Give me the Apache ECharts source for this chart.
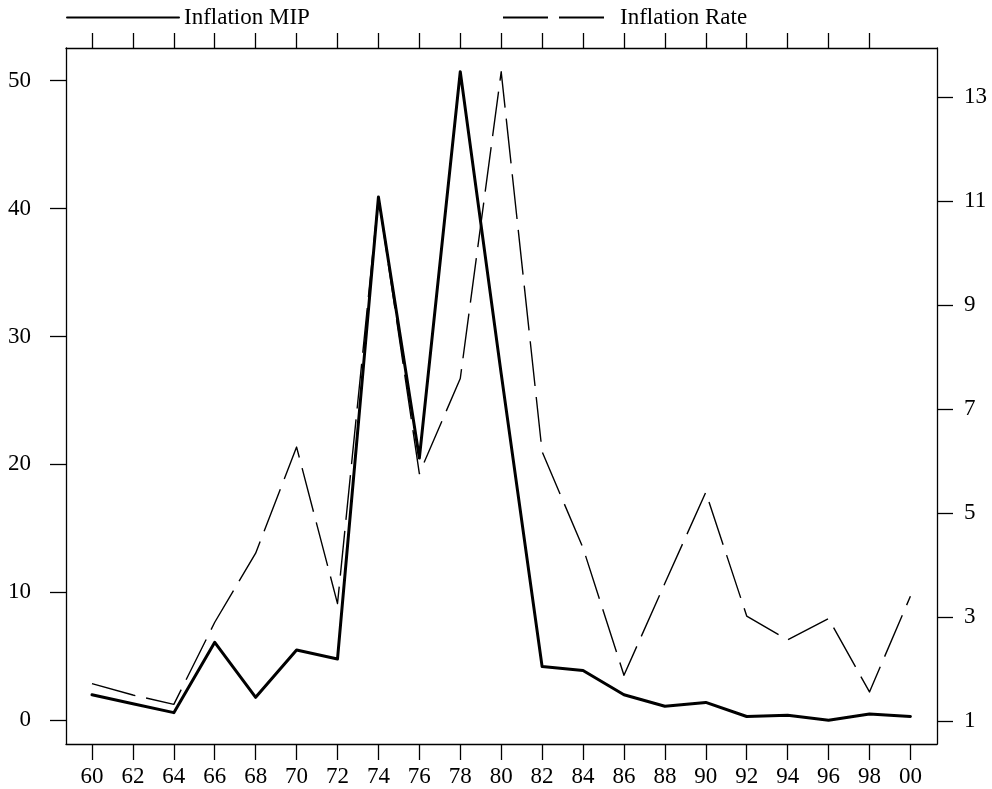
<!DOCTYPE html>
<html>
<head>
<meta charset="utf-8">
<title>Inflation MIP and Inflation Rate</title>
<script src="https://cdn.jsdelivr.net/npm/echarts@6/dist/echarts.min.js"></script>
<style>
  html, body { margin: 0; padding: 0; background: #fff; }
  #chart { width: 992px; height: 789px; }
</style>
</head>
<body>
<div id="chart"></div>
<script>
// Years 1960-2000 at two-year steps
const years = [1960, 1962, 1964, 1966, 1968, 1970, 1972, 1974, 1976, 1978,
               1980, 1982, 1984, 1986, 1988, 1990, 1992, 1994, 1996, 1998, 2000];

// Inflation MIP (left axis)
const inflationMIP = [2.0, 1.3, 0.6, 6.1, 1.8, 5.5, 4.8, 40.9, 20.5, 50.7,
                      27.1, 4.2, 3.9, 2.0, 1.1, 1.4, 0.3, 0.4, 0.0, 0.5, 0.3];

// Inflation Rate (right axis)
const inflationRate = [1.72, 1.5, 1.32, 2.9, 4.23, 6.27, 3.26, 11.08, 5.76, 7.59,
                       13.49, 6.18, 4.33, 1.88, 3.65, 5.4, 3.02, 2.56, 2.97, 1.56, 3.4];

// Tick values
const bottomTicks = [1960, 1962, 1964, 1966, 1968, 1970, 1972, 1974, 1976, 1978,
                     1980, 1982, 1984, 1986, 1988, 1990, 1992, 1994, 1996, 1998, 2000];
const topTicks = [1960, 1962, 1964, 1966, 1968, 1970, 1972, 1974, 1976, 1978,
                  1980, 1982, 1984, 1986, 1988, 1990, 1992, 1994, 1996, 1998];
const leftTicks = [0, 10, 20, 30, 40, 50];
const rightTicks = [1, 3, 5, 7, 9, 11, 13];

const FONT = 'Liberation Serif';
const ink = '#000';

const chart = echarts.init(document.getElementById('chart'), null, { renderer: 'canvas' });

const pairs = (xs, ys) => xs.map((x, i) => [x, ys[i]]);

const axisCommon = {
  type: 'value',
  splitLine: { show: false },
  axisLine: { show: true, onZero: false, lineStyle: { color: ink, width: 1.3 } },
  axisTick: { show: true, inside: false, length: 16, lineStyle: { color: ink, width: 1.3 } }
};

// Legend entries: plain line sample (no marker) followed by the name
const legendCommon = {
  top: 6,
  padding: 0,
  itemWidth: 112, itemHeight: 14, itemGap: 0,
  itemStyle: { color: 'rgba(0,0,0,0)', borderColor: 'rgba(0,0,0,0)', borderWidth: 0 },
  textStyle: { fontFamily: FONT, fontSize: 23, color: ink }
};

chart.setOption({
  animation: false,
  backgroundColor: '#fff',
  textStyle: { fontFamily: FONT, color: ink },
  grid: { left: 66, right: 55, top: 48, bottom: 45, containLabel: false },
  legend: [
    Object.assign({}, legendCommon, { data: ['Inflation MIP'], left: 66 }),
    Object.assign({}, legendCommon, { data: ['Inflation Rate'], left: 502 })
  ],
  xAxis: [
    Object.assign({}, axisCommon, {
      position: 'bottom',
      min: 1958.73, max: 2001.3,
      axisTick: Object.assign({}, axisCommon.axisTick, { customValues: bottomTicks }),
      axisLabel: {
        customValues: bottomTicks,
        margin: 21,
        fontFamily: FONT, fontSize: 23, color: ink,
        formatter: v => String(Math.round(v) % 100).padStart(2, '0')
      }
    }),
    Object.assign({}, axisCommon, {
      position: 'top',
      min: 1958.73, max: 2001.3,
      axisTick: Object.assign({}, axisCommon.axisTick, { length: 15, customValues: topTicks }),
      axisLabel: { show: false }
    })
  ],
  yAxis: [
    Object.assign({}, axisCommon, {
      position: 'left',
      min: -1.85, max: 52.55,
      axisTick: Object.assign({}, axisCommon.axisTick, { customValues: leftTicks }),
      axisLabel: {
        customValues: leftTicks,
        margin: 35,
        fontFamily: FONT, fontSize: 23, color: ink
      }
    }),
    Object.assign({}, axisCommon, {
      position: 'right',
      min: 0.558, max: 13.948,
      axisTick: Object.assign({}, axisCommon.axisTick, { customValues: rightTicks }),
      axisLabel: {
        customValues: rightTicks,
        margin: 27,
        fontFamily: FONT, fontSize: 23, color: ink
      }
    })
  ],
  series: [
    {
      name: 'Inflation MIP',
      type: 'line',
      xAxisIndex: 0, yAxisIndex: 0,
      data: pairs(years, inflationMIP),
      symbol: 'none',
      lineStyle: { color: ink, width: 3, type: 'solid', join: 'round', cap: 'round' },
      itemStyle: { color: ink },
      z: 3
    },
    {
      name: 'Inflation Rate',
      type: 'line',
      xAxisIndex: 0, yAxisIndex: 1,
      data: pairs(years, inflationRate),
      symbol: 'none',
      lineStyle: { color: ink, width: 1.4, type: [45, 11], join: 'round' },
      itemStyle: { color: ink },
      z: 2
    }
  ]
});
</script>
</body>
</html>
